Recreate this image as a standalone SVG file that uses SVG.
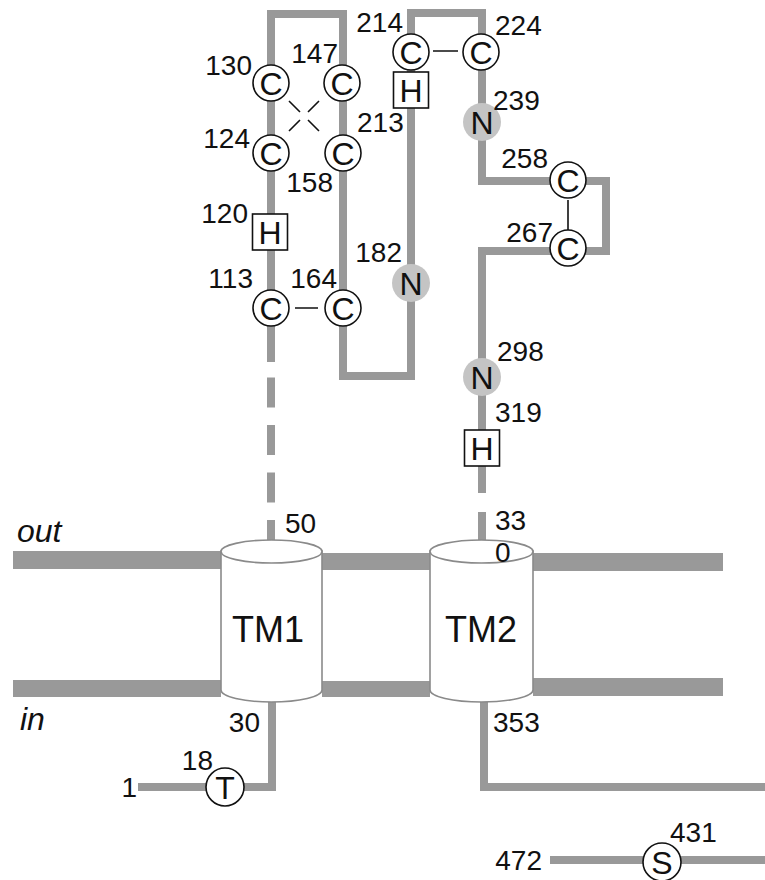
<svg xmlns="http://www.w3.org/2000/svg" width="765" height="880" viewBox="0 0 765 880">
<style>
text{font-family:"Liberation Sans",Arial,sans-serif;fill:#111}
.lbl{font-size:28px}
.end{text-anchor:end}
.res{font-size:32px;text-anchor:middle}
.chain{fill:none;stroke:#999;stroke-width:8;stroke-linejoin:miter;stroke-linecap:butt}
.mem{fill:#999}
.cyl{fill:#fff;stroke:#8a8a8a;stroke-width:1.6}
.c{fill:#fff;stroke:#111;stroke-width:1.6}
.n{fill:#c4c4c4}
.bond{stroke:#111;stroke-width:1.6;fill:none}
.tm{font-size:36px;text-anchor:middle}
.side{font-size:32px;font-style:italic}
</style>
<rect width="765" height="880" fill="#fff"/>
<g id="membrane">
<rect class="mem" x="13" y="551" width="208" height="18"/>
<rect class="mem" x="322" y="553" width="108" height="17"/>
<rect class="mem" x="533" y="553" width="190" height="18"/>
<rect class="mem" x="13" y="680" width="208" height="17"/>
<rect class="mem" x="322" y="681" width="108" height="16"/>
<rect class="mem" x="533" y="678" width="190" height="18"/>
</g>
<g id="connectors">
<path class="chain" d="M271,362 V14 H343 V376 H411 V13 H482 V181 H606 V251 H482 V493"/>
<path class="chain" d="M271,330 V540" stroke-dasharray="30 17.5"/>
<path class="chain" d="M482,512 V552"/>
<path class="chain" d="M272,700 V787 H138"/>
<path class="chain" d="M484,700 V787 H765"/>
<path class="chain" d="M550,860 H765"/>
<path class="bond" d="M295,308 H318 M433,51 H458 M568,200 V230"/>
<path class="bond" d="M289,101 L300,112 M319,101 L308,112 M289,131 L300,120 M319,131 L308,120"/>
</g>
<g id="TM1">
<path class="cyl" d="M221,551 V690 A50.5,12 0 0 0 322,690 V551 Z"/>
<ellipse class="cyl" cx="271.5" cy="551.5" rx="50.5" ry="11.5"/>
<text class="tm" x="268" y="642">TM1</text>
</g>
<g id="TM2">
<path class="cyl" d="M430,551 V690 A51.5,12 0 0 0 533,690 V551 Z"/>
<ellipse class="cyl" cx="481.5" cy="551.5" rx="51.5" ry="11.5"/>
<text class="tm" x="481" y="642">TM2</text>
</g>
<g id="C130"><circle class="c" cx="271" cy="83" r="18"/><text class="res" x="271" y="94.5">C</text></g>
<g id="C147"><circle class="c" cx="342" cy="83" r="18"/><text class="res" x="342" y="94.5">C</text></g>
<g id="C124"><circle class="c" cx="271" cy="153" r="18"/><text class="res" x="271" y="164.5">C</text></g>
<g id="C213"><circle class="c" cx="343" cy="153" r="18"/><text class="res" x="343" y="164.5">C</text></g>
<g id="C113"><circle class="c" cx="271" cy="308" r="18"/><text class="res" x="271" y="319.5">C</text></g>
<g id="C164"><circle class="c" cx="343" cy="308" r="18"/><text class="res" x="343" y="319.5">C</text></g>
<g id="C214"><circle class="c" cx="411" cy="52" r="18"/><text class="res" x="411" y="63.5">C</text></g>
<g id="C224"><circle class="c" cx="481" cy="52" r="18"/><text class="res" x="481" y="63.5">C</text></g>
<g id="C258"><circle class="c" cx="568" cy="180" r="18"/><text class="res" x="568" y="191.5">C</text></g>
<g id="C267"><circle class="c" cx="568" cy="248" r="18"/><text class="res" x="568" y="259.5">C</text></g>
<g id="T18"><circle class="c" cx="225" cy="787" r="19"/><text class="res" x="225" y="798.5">T</text></g>
<g id="S431"><circle class="c" cx="662" cy="862" r="19"/><text class="res" x="662" y="873.5">S</text></g>
<g id="N182"><circle class="n" cx="411" cy="283" r="19"/><text class="res" x="411" y="294.5">N</text></g>
<g id="N239"><circle class="n" cx="482" cy="122" r="19"/><text class="res" x="482" y="133.5">N</text></g>
<g id="N298"><circle class="n" cx="482" cy="377" r="19"/><text class="res" x="482" y="388.5">N</text></g>
<g id="H120"><rect class="c" x="252.5" y="214" width="35" height="36"/><text class="res" x="270" y="243.5">H</text></g>
<g id="H214"><rect class="c" x="393.5" y="72" width="35" height="36"/><text class="res" x="411" y="101.5">H</text></g>
<g id="H319"><rect class="c" x="464.5" y="430" width="35" height="36"/><text class="res" x="482" y="459.5">H</text></g>
<g id="labels">
<text class="lbl end" x="252" y="75">130</text>
<text class="lbl end" x="338" y="63">147</text>
<text class="lbl end" x="250" y="148">124</text>
<text class="lbl" x="357" y="132">213</text>
<text class="lbl end" x="333" y="192">158</text>
<text class="lbl end" x="403" y="32">214</text>
<text class="lbl" x="495" y="35">224</text>
<text class="lbl" x="493" y="110">239</text>
<text class="lbl end" x="548" y="168">258</text>
<text class="lbl end" x="553" y="242">267</text>
<text class="lbl end" x="248" y="223">120</text>
<text class="lbl end" x="253" y="288">113</text>
<text class="lbl end" x="337" y="288">164</text>
<text class="lbl end" x="402" y="262">182</text>
<text class="lbl" x="497" y="361">298</text>
<text class="lbl" x="495" y="422">319</text>
<text class="lbl" x="495" y="530">33</text>
<text class="lbl" x="495" y="562">0</text>
<text class="lbl" x="285" y="533">50</text>
<text class="lbl end" x="260" y="732">30</text>
<text class="lbl" x="493" y="732">353</text>
<text class="lbl end" x="213" y="770">18</text>
<text class="lbl end" x="137" y="797">1</text>
<text class="lbl" x="670" y="842">431</text>
<text class="lbl end" x="542" y="870">472</text>
<text class="side" x="17" y="542">out</text>
<text class="side" x="20" y="730">in</text>
</g>
</svg>
